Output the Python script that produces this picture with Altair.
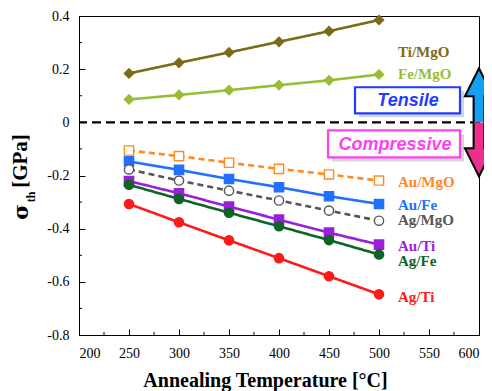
import altair as alt
import pandas as pd

temps = [250, 300, 350, 400, 450, 500]
series_names = ["Ti/MgO", "Fe/MgO", "Au/MgO", "Au/Fe", "Ag/MgO", "Au/Ti", "Ag/Fe", "Ag/Ti"]
ti_mgo = [0.184, 0.224, 0.263, 0.303, 0.343, 0.385]
fe_mgo = [0.086, 0.103, 0.121, 0.140, 0.158, 0.180]
au_mgo = [-0.106, -0.127, -0.152, -0.175, -0.196, -0.219]
au_fe = [-0.147, -0.179, -0.213, -0.244, -0.278, -0.307]
ag_mgo = [-0.177, -0.219, -0.257, -0.294, -0.332, -0.370]
au_ti = [-0.221, -0.267, -0.317, -0.366, -0.415, -0.460]
ag_fe = [-0.235, -0.288, -0.340, -0.391, -0.443, -0.497]
ag_ti = [-0.307, -0.376, -0.444, -0.511, -0.579, -0.647]
values = [ti_mgo, fe_mgo, au_mgo, au_fe, ag_mgo, au_ti, ag_fe, ag_ti]

colors = ["#7d6a15", "#98bd37", "#ff8a24", "#2170ff", "#555555", "#9a1fd8", "#0c6427", "#ff1a1a"]
dashes = [[1, 0], [1, 0], [6, 4], [1, 0], [6, 4], [1, 0], [1, 0], [1, 0]]
shapes = ["diamond", "diamond", "square", "square", "circle", "square", "circle", "circle"]
fills = ["#7d6a15", "#98bd37", "#ffffff", "#2170ff", "#ffffff", "#9a1fd8", "#0c6427", "#ff1a1a"]
open_series = ["Au/MgO", "Ag/MgO"]

label_x = [519] * 8
label_y = [0.264, 0.180, -0.225, -0.311, -0.367, -0.467, -0.523, -0.657]

minor_x = [225, 275, 325, 375, 425, 475, 525, 575]
minor_y = [0.3, 0.1, -0.1, -0.3, -0.5, -0.7]

box_names = ["Tensile", "Compressive"]
box_x = [476, 449]
box_x2 = [581, 581]
box_y = [0.132, -0.030]
box_y2 = [0.034, -0.132]
box_text_x = [529, 516]
box_text_y = [0.080, -0.084]
box_colors = ["#1f3cff", "#ff3ff0"]

arrow_x = [600, 600]
arrow_y = [0.102, -0.102]
arrow_colors = ["#14a0f0", "#ec2f8a"]
arrow_paths = [
    "M0.2,1 L0.2,0.04 L0.52,0.04 L0,-1 L-0.52,0.04 L-0.2,0.04 L-0.2,1",
    "M-0.2,-1 L-0.2,-0.04 L-0.52,-0.04 L0,1 L0.52,-0.04 L0.2,-0.04 L0.2,-1",
]

rows = []
for name, vals in zip(series_names, values):
    for t, v in zip(temps, vals):
        rows.append({"series": name, "T": t, "s": v})
df = pd.DataFrame(rows)
labels_df = pd.DataFrame({"series": series_names, "x": label_x, "y": label_y})
boxes_df = pd.DataFrame({"name": box_names, "x": box_x, "x2": box_x2, "y": box_y, "y2": box_y2,
                         "tx": box_text_x, "ty": box_text_y, "c": box_colors})

SERIF = "Liberation Serif"
xs = alt.Scale(domain=[200, 600], nice=False)
ys = alt.Scale(domain=[-0.8, 0.4], nice=False)
col = alt.Scale(domain=series_names, range=colors)

x_enc = alt.X("T:Q", scale=xs, axis=alt.Axis(
    values=list(range(200, 601, 50)), title="Annealing Temperature [°C]",
    tickSize={"expr": "-6"}, labelPadding=17, grid=False,
    titleX=186, titleY=51, titleBaseline="alphabetic", titleAnchor="middle", titleAlign="center"))
y_enc = alt.Y("s:Q", scale=ys, axis=alt.Axis(
    values=[-0.8, -0.6, -0.4, -0.2, 0, 0.2, 0.4], title=None,
    labelExpr="datum.value == 0 ? '0' : toString(round(datum.value*10)/10)",
    tickSize={"expr": "-6"}, labelPadding=16, grid=False))

base = alt.Chart(df)
lines = base.mark_line(strokeWidth=2.6).encode(
    x=x_enc, y=y_enc,
    color=alt.Color("series:N", scale=col, legend=None),
    strokeDash=alt.StrokeDash("series:N", scale=alt.Scale(domain=series_names, range=dashes), legend=None),
    detail="series:N",
)
points = base.mark_point(filled=True, size=85, strokeWidth=1.4, opacity=1).encode(
    x="T:Q", y="s:Q",
    shape=alt.Shape("series:N", scale=alt.Scale(domain=series_names, range=shapes), legend=None),
    fill=alt.Fill("series:N", scale=alt.Scale(domain=series_names, range=fills), legend=None),
    stroke=alt.Stroke("series:N", scale=col, legend=None),
)
dots = base.transform_filter(alt.FieldOneOfPredicate(field="series", oneOf=open_series)).mark_point(
    filled=True, size=6, shape="square", opacity=1).encode(
    x="T:Q", y="s:Q", fill=alt.Fill("series:N", scale=col, legend=None))

zero = alt.Chart(pd.DataFrame({"y": [0]})).mark_rule(
    color="black", strokeWidth=2.4, strokeDash=[9, 5]).encode(y="y:Q")

minor_xt = alt.Chart(pd.DataFrame({"x": minor_x})).mark_rule(color="black", strokeWidth=1).encode(
    x="x:Q", y=alt.value(319), y2=alt.value(316))
minor_yt = alt.Chart(pd.DataFrame({"y": minor_y})).mark_rule(color="black", strokeWidth=1).encode(
    y="y:Q", x=alt.value(0), x2=alt.value(3))

labels = alt.Chart(labels_df).mark_text(
    font=SERIF, fontSize=15, fontWeight="bold", align="left", baseline="middle").encode(
    x="x:Q", y="y:Q", text="series:N", color=alt.Color("series:N", scale=col, legend=None))

shadow = alt.Chart(boxes_df).mark_rect(fill="#888888", opacity=0.35, xOffset=4, yOffset=4,
                                       x2Offset=4, y2Offset=4).encode(
    x="x:Q", x2="x2:Q", y="y:Q", y2="y2:Q")
boxes = alt.Chart(boxes_df).mark_rect(fill="white", strokeWidth=2.2).encode(
    x="x:Q", x2="x2:Q", y="y:Q", y2="y2:Q",
    stroke=alt.Stroke("c:N", scale=None))
box_text = alt.Chart(boxes_df).mark_text(
    font="Liberation Sans", fontSize=18, fontWeight="bold", fontStyle="italic",
    align="center", baseline="middle").encode(
    x="tx:Q", y="ty:Q", text="name:N", color=alt.Color("c:N", scale=None))

arrow_layers = []
for ax, ay, ac, ap in zip(arrow_x, arrow_y, arrow_colors, arrow_paths):
    arrow_layers.append(alt.Chart(pd.DataFrame({"x": [ax], "y": [ay]})).mark_point(
        shape=ap, size=2916, filled=True, fill=ac, stroke="black", strokeWidth=2,
        opacity=1, strokeJoin="miter").encode(x="x:Q", y="y:Q"))

title_parts = alt.layer(
    alt.Chart(pd.DataFrame({"t": ["[GPa]"]})).mark_text(
        font=SERIF, fontSize=21, fontWeight="bold", angle=270, align="center", baseline="alphabetic",
        color="black").encode(text="t:N", x=alt.value(-52), y=alt.value(145)),
    alt.Chart(pd.DataFrame({"t": ["σ"]})).mark_text(
        font="DejaVu Serif", fontSize=21, fontWeight="bold", angle=270, align="center",
        baseline="alphabetic", color="black").encode(text="t:N", x=alt.value(-51), y=alt.value(196)),
    alt.Chart(pd.DataFrame({"t": ["th"]})).mark_text(
        font=SERIF, fontSize=12, fontWeight="bold", angle=270, align="center",
        baseline="alphabetic", color="black").encode(text="t:N", x=alt.value(-44), y=alt.value(181)),
)

chart = alt.layer(
    zero, lines, points, dots, minor_xt, minor_yt, labels, shadow, boxes, box_text,
    *arrow_layers, title_parts
).properties(
    width=400, height=319,
    autosize=alt.AutoSizeParams(type="none"),
    padding={"left": 71, "top": 8, "right": 5, "bottom": 56},
).configure_view(stroke="black", strokeWidth=1).configure_axis(
    domainColor="black", tickColor="black", labelColor="black", titleColor="black",
    labelFont=SERIF, labelFontSize=14, titleFont=SERIF, titleFontSize=20, titleFontWeight="bold",
    domainWidth=1, tickWidth=1,
)

chart.save("out.html", embed_options={"renderer": "svg", "actions": False})
